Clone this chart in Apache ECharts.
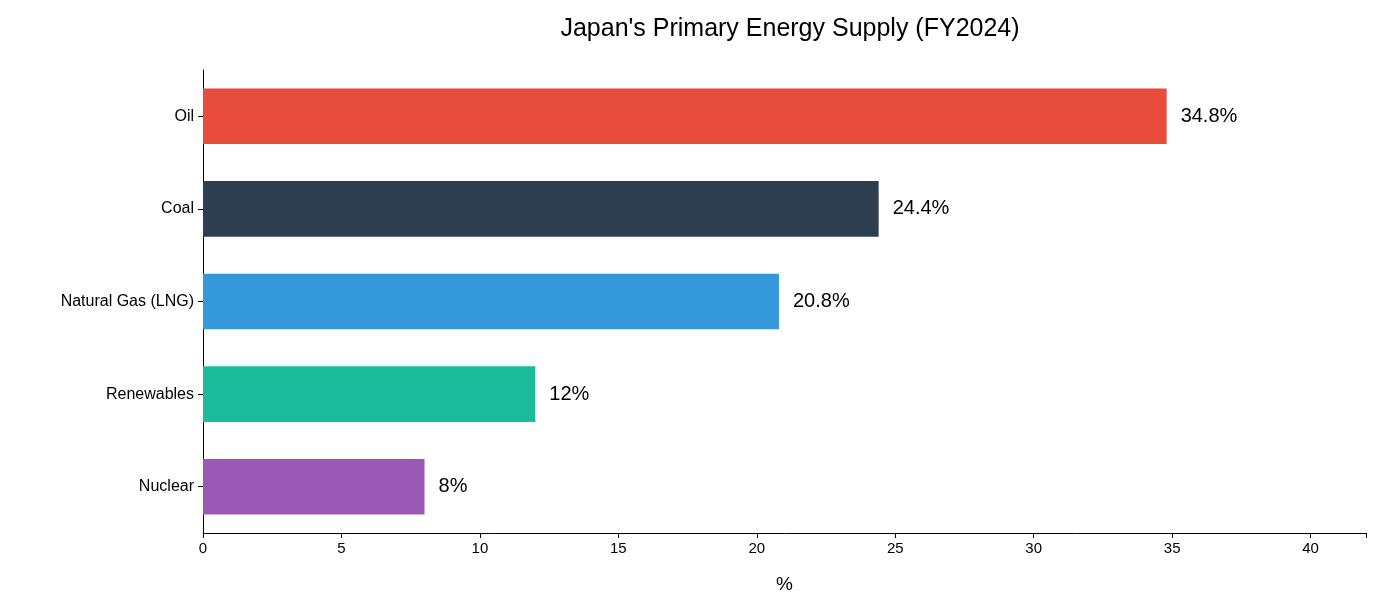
<!DOCTYPE html>
<html><head><meta charset="utf-8">
<script src="https://cdn.jsdelivr.net/npm/echarts@6/dist/echarts.min.js"></script>
<style>html,body{margin:0;padding:0;background:#fff}#c{width:1380px;height:615px}</style>
</head><body><div id="c"></div>
<script>
const categories = ["Nuclear", "Renewables", "Natural Gas (LNG)", "Coal", "Oil"];
const values = [8, 12, 20.8, 24.4, 34.8];
const colors = ["#9b59b6", "#1abc9c", "#3498db", "#2c3e50", "#e74c3c"];
const xTicks = [0, 5, 10, 15, 20, 25, 30, 35, 40];
const ff = "Liberation Sans, Arial, sans-serif";
const chart = echarts.init(document.getElementById('c'));
chart.setOption({
  animation: false,
  title: { text: "Japan's Primary Energy Supply (FY2024)", left: 785, top: 12, textAlign: 'center',
    textStyle: { fontFamily: ff, fontSize: 25, fontWeight: 'normal', color: '#000' } },
  grid: { left: 203, right: 14, top: 70, bottom: 82 },
  xAxis: { type: 'value', min: 0, max: 42, interval: 5, name: '%', nameLocation: 'middle', nameGap: 42,
    nameTextStyle: { fontFamily: ff, fontSize: 19, color: '#000' },
    axisLine: { show: true, lineStyle: { color: '#000' } },
    axisTick: { show: true, length: 5, lineStyle: { color: '#000' } },
    splitLine: { show: false },
    axisLabel: { fontFamily: ff, fontSize: 15, color: '#000', margin: 8,
      formatter: v => xTicks.includes(v) ? String(v) : '' } },
  yAxis: { type: 'category', data: categories,
    axisLine: { show: true, lineStyle: { color: '#000' } },
    axisTick: { show: true, alignWithLabel: true, length: 5, lineStyle: { color: '#000' } },
    axisLabel: { fontFamily: ff, fontSize: 16, color: '#000', margin: 9 } },
  series: [{ type: 'bar', barWidth: '60%',
    data: values.map((v, i) => ({ value: v, itemStyle: { color: colors[i] } })),
    label: { show: true, position: 'right', distance: 14, fontFamily: ff, fontSize: 20, color: '#000',
      formatter: p => p.value + '%' } }]
});
</script></body></html>
